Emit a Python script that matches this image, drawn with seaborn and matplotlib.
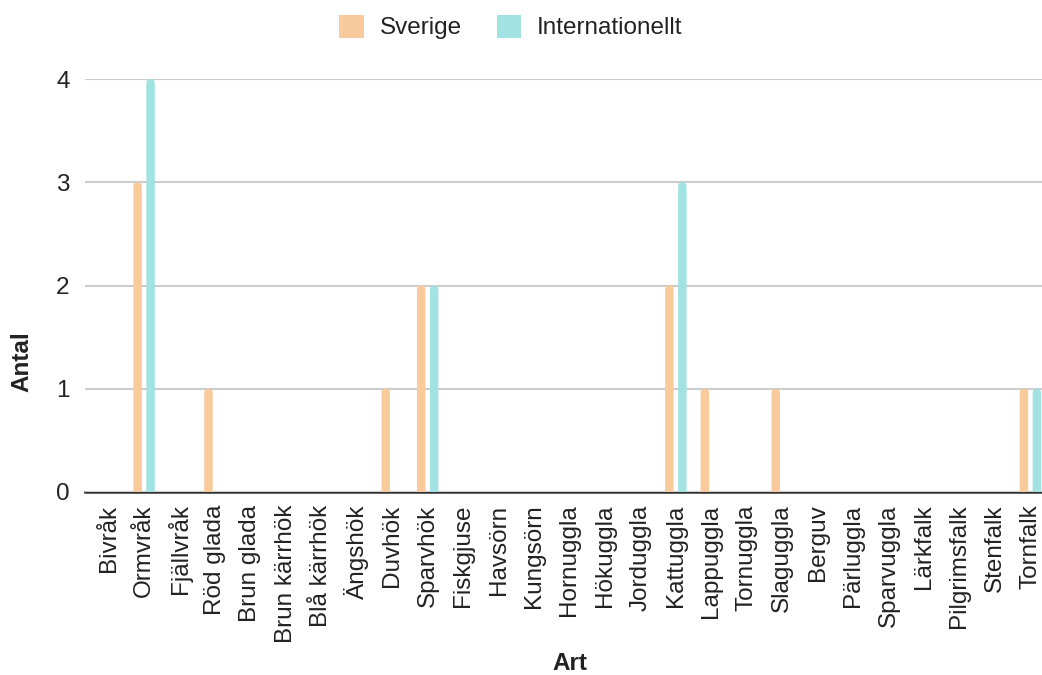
import matplotlib
matplotlib.use("Agg")
import matplotlib.pyplot as plt
import seaborn as sns
import pandas as pd
from matplotlib.patches import Patch, FancyBboxPatch

arter = ["Bivråk", "Ormvråk", "Fjällvråk", "Röd glada", "Brun glada", "Brun kärrhök",
         "Blå kärrhök", "Ängshök", "Duvhök", "Sparvhök", "Fiskgjuse", "Havsörn",
         "Kungsörn", "Hornuggla", "Hökuggla", "Jorduggla", "Kattuggla", "Lappuggla",
         "Tornuggla", "Slaguggla", "Berguv", "Pärluggla", "Sparvuggla", "Lärkfalk",
         "Pilgrimsfalk", "Stenfalk", "Tornfalk"]
sverige = [0, 3, 0, 1, 0, 0, 0, 0, 1, 2, 0, 0, 0, 0, 0, 0, 2, 1, 0, 1, 0, 0, 0, 0, 0, 0, 1]
internationellt = [0, 4, 0, 0, 0, 0, 0, 0, 0, 2, 0, 0, 0, 0, 0, 0, 3, 0, 0, 0, 0, 0, 0, 0, 0, 0, 1]
serier = ["Sverige", "Internationellt"]
farger = ["#F9CB9C", "#A2E2E2"]

df = pd.DataFrame({
    "Art": arter * 2,
    "Antal": sverige + internationellt,
    "Serie": [serier[0]] * len(arter) + [serier[1]] * len(arter),
})

sns.set_theme(style="white")
plt.rcParams["font.family"] = ["Liberation Sans", "DejaVu Sans"]

fig = plt.figure(figsize=(10.42, 6.75), dpi=100)
W, H = 1042, 675
left_px, right_px, top_px, bot_px = 85, 1054, 79, 492
ax = fig.add_axes([left_px / W, 1 - bot_px / H, (right_px - left_px) / W, (bot_px - top_px) / H])

sns.barplot(data=df, x="Art", y="Antal", hue="Serie", hue_order=serier,
            palette=farger, width=0.733, gap=0.35, ax=ax, legend=False,
            saturation=1, edgecolor="none")

ax.set_xlim(-0.666, len(arter) - 1 + 0.666)
ax.set_ylim(0, 4)

# round the bar tops
xunit_px = (right_px - left_px) / (ax.get_xlim()[1] - ax.get_xlim()[0])
yunit_px = (bot_px - top_px) / 4.0
for p in list(ax.patches):
    x, y = p.get_x(), p.get_y()
    w, h = p.get_width(), p.get_height()
    if h <= 0:
        p.remove()
        continue
    r = w / 2
    aspect = xunit_px / yunit_px
    rect = FancyBboxPatch((x, y - r * aspect), w, h + r * aspect,
                          boxstyle=f"round,pad=0,rounding_size={r}",
                          mutation_aspect=aspect,
                          facecolor=p.get_facecolor(), edgecolor="none", zorder=2)
    rect.set_clip_box(ax.bbox)
    p.remove()
    ax.add_patch(rect)

ax.set_yticks([0, 1, 2, 3, 4])
ax.yaxis.grid(True, color="#cccccc", linewidth=1.5)
ax.set_axisbelow(True)
for s in ["left", "right", "top"]:
    ax.spines[s].set_visible(False)
ax.spines["bottom"].set_color("#333333")
ax.spines["bottom"].set_linewidth(1.8)
ax.spines["bottom"].set_zorder(0.5)

ax.tick_params(axis="x", length=0, pad=9, labelsize=17.5, labelcolor="#222222", rotation=90)
ax.tick_params(axis="y", length=0, pad=11, labelsize=17.5, labelcolor="#222222")

ax.set_xlabel("Art", fontsize=17.5, fontweight="bold", color="#222222")
ax.set_ylabel("Antal", fontsize=17.5, fontweight="bold", color="#222222")
ax.xaxis.set_label_coords(0.5, -(663 - bot_px) / (bot_px - top_px))
ax.yaxis.set_label_coords((22 - left_px) / (right_px - left_px), (bot_px - 362) / (bot_px - top_px))
ax.xaxis.label.set_va("center")
ax.yaxis.label.set_va("center")

handles = [Patch(facecolor=c, edgecolor="none") for c in farger]
fig.legend(handles, serier, loc="center", bbox_to_anchor=(511 / W, 1 - 27 / H),
           ncol=2, frameon=False, fontsize=17.5, handlelength=1.0, handleheight=1.1,
           handletextpad=0.65, columnspacing=1.45, labelcolor="#222222")

fig.savefig("out.png", dpi=100)
